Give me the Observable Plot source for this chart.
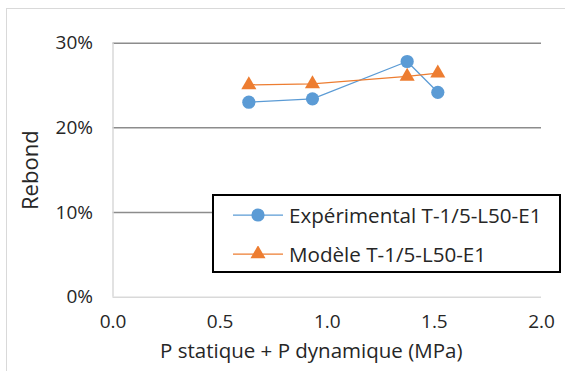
<!DOCTYPE html>
<html>
<head>
<meta charset="utf-8">
<script src="https://cdn.jsdelivr.net/npm/d3@7"></script>
<script src="https://cdn.jsdelivr.net/npm/@observablehq/plot@0.6"></script>
<style>
  html, body { margin: 0; padding: 0; background: #fff; }
  body { width: 565px; height: 371px; position: relative; overflow: hidden; font-family: "Open Sans", sans-serif; }
  #frame { position: absolute; left: 6px; top: 8px; width: 600px; height: 400px; border: 1px solid #d9d9d9; box-sizing: border-box; }
  #chart { position: absolute; left: 0; top: 0; }
  #legend { position: absolute; left: 212px; top: 194px; width: 349px; height: 79px; border: 2px solid #000; box-sizing: border-box; background: #fff; }
  .row { position: absolute; left: 0; height: 30px; display: flex; align-items: center; font-size: 20.6px; color: #262626; white-space: nowrap; }
  .row svg { margin-left: 19px; margin-right: 6px; }
</style>
</head>
<body>
<div id="frame"></div>
<div id="chart"></div>
<div id="legend"></div>
<script>
const pressure = [0.634, 0.931, 1.373, 1.516];
const experimental = [0.2303, 0.2343, 0.2784, 0.2420];
const modele = [0.2508, 0.2520, 0.2607, 0.2646];
const seriesNames = ["Expérimental T-1/5-L50-E1", "Modèle T-1/5-L50-E1"];
const colors = ["#5B9BD5", "#ED7D31"];
const xTicks = [0, 0.5, 1.0, 1.5, 2.0];
const yTicks = [0, 0.1, 0.2, 0.3];
const xLabel = "P statique + P dynamique (MPa)";
const yLabel = "Rebond";

const exp = pressure.map((p, i) => ({x: p, y: experimental[i]}));
const mod = pressure.map((p, i) => ({x: p, y: modele[i]}));

const plot = Plot.plot({
  width: 565,
  height: 371,
  marginLeft: 112.5,
  marginRight: 24,
  marginTop: 42.7,
  marginBottom: 74.3,
  style: {fontFamily: "Open Sans, sans-serif", fontSize: "19px", color: "#262626", background: "transparent", overflow: "visible"},
  x: {domain: [0, 2], ticks: xTicks},
  y: {domain: [0, 0.3], ticks: yTicks},
  marks: [
    Plot.ruleY(yTicks.filter(d => d > 0), {stroke: "#8c8c8c", strokeWidth: 1.5}),
    Plot.ruleY([0], {stroke: "#d9d9d9", strokeWidth: 1.5}),
    Plot.ruleX([0], {stroke: "#d9d9d9", strokeWidth: 1.5}),
    Plot.axisX({ticks: xTicks, tickSize: 0, tickPadding: 17, tickFormat: d3.format(".1f"), label: null, fontSize: 19, fill: "#262626"}),
    Plot.axisY({ticks: yTicks, tickSize: 0, tickPadding: 20, tickFormat: d3.format(".0%"), label: null, fontSize: 19, fill: "#262626"}),
    Plot.text([xLabel], {frameAnchor: "bottom", dx: -16, dy: 61, fontSize: 20.5, fill: "#262626"}),
    Plot.text([yLabel], {frameAnchor: "left", textAnchor: "middle", dx: -82, rotate: -90, fontSize: 22, fill: "#262626"}),
    Plot.line(exp, {x: "x", y: "y", stroke: colors[0], strokeWidth: 1.25}),
    Plot.dot(exp, {x: "x", y: "y", r: 6.6, fill: colors[0], stroke: "none"}),
    Plot.line(mod, {x: "x", y: "y", stroke: colors[1], strokeWidth: 1.25}),
    Plot.dot(mod, {x: "x", y: "y", r: 5.6, symbol: "triangle", fill: colors[1], stroke: "none"})
  ]
});
document.getElementById("chart").appendChild(plot);

const legend = d3.select("#legend");
const rowsTop = [4, 43];
seriesNames.forEach((name, i) => {
  const row = legend.append("div").attr("class", "row").style("top", rowsTop[i] + "px");
  const svg = row.append("svg").attr("width", 50).attr("height", 16);
  svg.append("line").attr("x1", 0).attr("x2", 50).attr("y1", 8).attr("y2", 8)
    .attr("stroke", colors[i]).attr("stroke-width", 1.25);
  if (i === 0) {
    svg.append("circle").attr("cx", 25).attr("cy", 8).attr("r", 6.6).attr("fill", colors[i]);
  } else {
    svg.append("path").attr("transform", "translate(25,8)")
      .attr("d", d3.symbol(d3.symbolTriangle, Math.PI * 5.6 * 5.6)()).attr("fill", colors[i]);
  }
  row.append("span").text(name);
});
</script>
</body>
</html>
